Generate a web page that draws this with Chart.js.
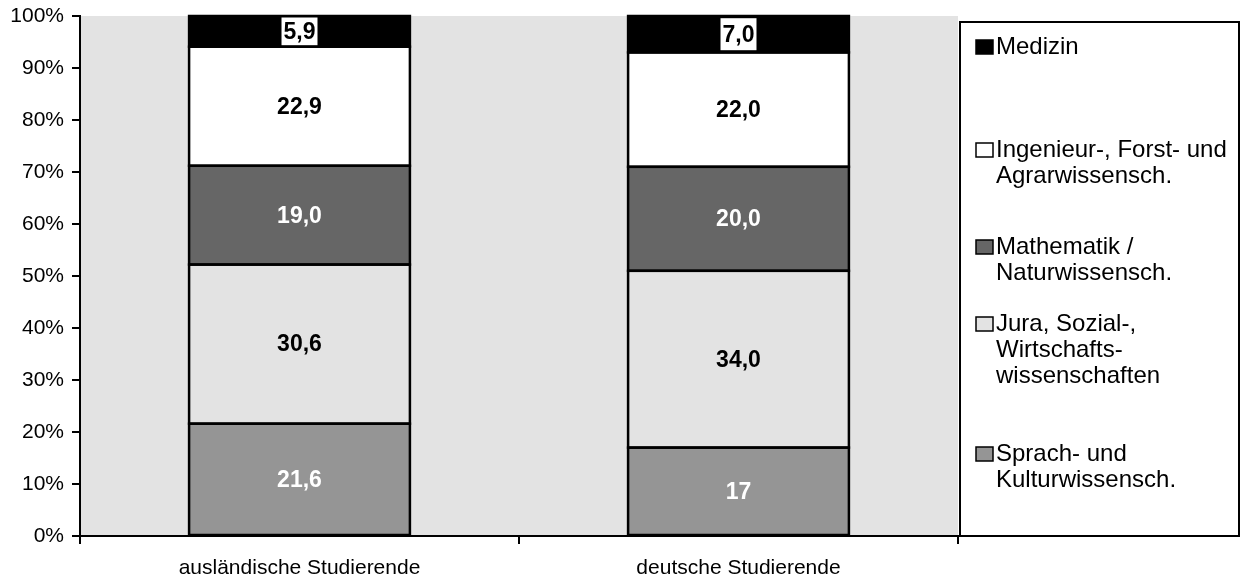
<!DOCTYPE html>
<html>
<head>
<meta charset="utf-8">
<title>Studierende nach Fächergruppen</title>
<script src="https://cdn.jsdelivr.net/npm/chart.js@4/dist/chart.umd.min.js"></script>
<style>
  html, body { margin: 0; padding: 0; background: #ffffff; }
  #wrap { width: 1243px; height: 578px; }
</style>
</head>
<body>
<div id="wrap"><canvas id="myChart" width="1243" height="578"></canvas></div>
<script>
// categories on the x axis
const categories = ['ausländische Studierende', 'deutsche Studierende'];

// series values (percent of all students)
const sprach = [21.6, 17];
const jura = [30.6, 34.0];
const mathe = [19.0, 20.0];
const ingenieur = [22.9, 22.0];
const medizin = [5.9, 7.0];

// value labels as printed in the bars
const sprachLabels = ['21,6', '17'];
const juraLabels = ['30,6', '34,0'];
const matheLabels = ['19,0', '20,0'];
const ingenieurLabels = ['22,9', '22,0'];
const medizinLabels = ['5,9', '7,0'];

// legend texts (one entry per line)
const sprachLegend = ['Sprach- und', 'Kulturwissensch.'];
const juraLegend = ['Jura, Sozial-,', 'Wirtschafts-', 'wissenschaften'];
const matheLegend = ['Mathematik /', 'Naturwissensch.'];
const ingenieurLegend = ['Ingenieur-, Forst- und', 'Agrarwissensch.'];
const medizinLegend = ['Medizin'];

// y axis
const yMin = 0;
const yMax = 100;
const yStep = 10;

const FONT = '"Liberation Sans", Arial, Helvetica, sans-serif';
Chart.defaults.font.family = FONT;
Chart.defaults.color = '#000';

// grey plot background
const plotBackground = {
    id: 'plotBackground',
    beforeDraw(chart) {
        const { ctx, chartArea } = chart;
        ctx.save();
        ctx.fillStyle = '#e3e3e3';
        ctx.fillRect(chartArea.left, chartArea.top, chartArea.right - chartArea.left, chartArea.bottom - chartArea.top);
        ctx.restore();
    }
};

// outlines + numbers in the middle of each segment
const segmentLabels = {
    id: 'segmentLabels',
    afterDatasetsDraw(chart) {
        const ctx = chart.ctx;
        ctx.save();
        // one shared outline per segment, so neighbours don't double up
        ctx.strokeStyle = '#000';
        ctx.lineWidth = 2.5;
        chart.data.datasets.forEach((ds, i) => {
            chart.getDatasetMeta(i).data.forEach(bar => {
                const top = Math.min(bar.y, bar.base);
                const h = Math.abs(bar.base - bar.y);
                ctx.strokeRect(bar.x - bar.width / 2, top, bar.width, h);
            });
        });

        ctx.font = 'bold 23px ' + FONT;
        ctx.textAlign = 'center';
        ctx.textBaseline = 'middle';
        chart.data.datasets.forEach((ds, i) => {
            const meta = chart.getDatasetMeta(i);
            meta.data.forEach((bar, j) => {
                const text = ds.valueLabels[j];
                const top = Math.min(bar.y, bar.base);
                const h = Math.abs(bar.base - bar.y);
                const cy = top + h / 2;
                if (ds.labelBox) {
                    const w = ctx.measureText(text).width + 4;
                    const bh = Math.min(32, h - 3);
                    ctx.fillStyle = '#ffffff';
                    ctx.fillRect(bar.x - w / 2, cy - bh / 2, w, bh);
                }
                ctx.fillStyle = ds.labelColor;
                ctx.fillText(text, bar.x, cy + 1);
            });
        });
        ctx.restore();
    }
};

// boxed legend on the right
const sideLegend = {
    id: 'sideLegend',
    afterDraw(chart, args, opts) {
        const { ctx, chartArea } = chart;
        const left = chartArea.right + 2;
        const top = chartArea.top + 6;
        const right = chart.width - 4;
        const bottom = chartArea.bottom;
        ctx.save();
        ctx.fillStyle = '#ffffff';
        ctx.fillRect(left, top, right - left, bottom - top);
        ctx.strokeStyle = '#000';
        ctx.lineWidth = 2;
        ctx.strokeRect(left, top, right - left, bottom - top);

        ctx.font = '24px ' + FONT;
        ctx.textAlign = 'left';
        ctx.textBaseline = 'middle';
        const order = [4, 3, 2, 1, 0];
        order.forEach((dsIndex, k) => {
            const ds = chart.data.datasets[dsIndex];
            const y0 = chartArea.top + opts.itemOffsets[k];
            ctx.fillStyle = ds.backgroundColor;
            ctx.fillRect(left + 16, y0 - 7, 17, 14);
            ctx.lineWidth = 1.5;
            ctx.strokeStyle = '#000';
            ctx.strokeRect(left + 16, y0 - 7, 17, 14);
            ctx.fillStyle = '#000';
            ds.legendLines.forEach((line, n) => {
                ctx.fillText(line, left + 36, y0 + n * 26);
            });
        });
        ctx.restore();
    }
};

function makeDataset(label, data, color, valueLabels, labelColor, legendLines, labelBox) {
    return {
        label: label,
        data: data,
        backgroundColor: color,
        borderWidth: 0,
        valueLabels: valueLabels,
        labelColor: labelColor,
        legendLines: legendLines,
        labelBox: labelBox
    };
}

const ctx = document.getElementById('myChart').getContext('2d');
const chart = new Chart(ctx, {
    type: 'bar',
    data: {
        labels: categories,
        datasets: [
            makeDataset('Sprach- und Kulturwissensch.', sprach, '#959595', sprachLabels, '#ffffff', sprachLegend, false),
            makeDataset('Jura, Sozial-, Wirtschaftswissenschaften', jura, '#e3e3e3', juraLabels, '#000000', juraLegend, false),
            makeDataset('Mathematik / Naturwissensch.', mathe, '#666666', matheLabels, '#ffffff', matheLegend, false),
            makeDataset('Ingenieur-, Forst- und Agrarwissensch.', ingenieur, '#ffffff', ingenieurLabels, '#000000', ingenieurLegend, false),
            makeDataset('Medizin', medizin, '#000000', medizinLabels, '#000000', medizinLegend, true)
        ]
    },
    options: {
        responsive: false,
        animation: false,
        layout: {
            padding: { top: 16, right: 285, left: 0, bottom: 0 }
        },
        datasets: {
            bar: {
                categoryPercentage: 1,
                barPercentage: 0.503
            }
        },
        plugins: {
            legend: { display: false },
            tooltip: { enabled: false },
            sideLegend: {
                itemOffsets: [31, 134, 231, 308, 438]
            }
        },
        scales: {
            x: {
                stacked: true,
                afterFit(scale) {
                    scale.height = 42;
                    scale.paddingLeft = 0;
                    scale.paddingRight = 0;
                },
                border: { display: true, color: '#000', width: 2 },
                grid: {
                    offset: true,
                    drawOnChartArea: false,
                    drawTicks: true,
                    tickLength: 8,
                    color: '#000',
                    lineWidth: 2
                },
                ticks: {
                    padding: 12,
                    maxRotation: 0,
                    font: { size: 21 }
                }
            },
            y: {
                stacked: true,
                min: yMin,
                max: yMax,
                afterFit(scale) {
                    scale.width = 80;
                    // label overhang is covered by the layout padding
                    scale.paddingTop = 0;
                    scale.paddingBottom = 0;
                },
                border: { display: true, color: '#000', width: 2 },
                grid: {
                    drawOnChartArea: false,
                    drawTicks: true,
                    tickLength: 8,
                    color: '#000',
                    lineWidth: 2
                },
                ticks: {
                    stepSize: yStep,
                    padding: 8,
                    font: { size: 21 },
                    callback: function (value) {
                        return value + '%';
                    }
                }
            }
        }
    },
    plugins: [plotBackground, segmentLabels, sideLegend]
});
</script>
</body>
</html>
